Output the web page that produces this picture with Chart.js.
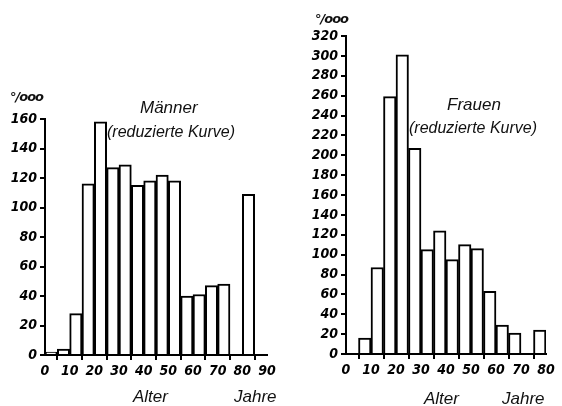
<!DOCTYPE html>
<html>
<head>
<meta charset="utf-8">
<script src="https://cdn.jsdelivr.net/npm/chart.js@4"></script>
<style>
  body { margin: 0; background: #fff; }
  #page { position: relative; width: 562px; height: 406px; overflow: hidden; }
  .box { position: absolute; top: 0; }
  .lbl { position: absolute; font-family: "Liberation Sans", Arial, sans-serif; font-style: italic; color: #111; white-space: nowrap; }
  .unit { font-family: "DejaVu Sans", sans-serif; font-weight: bold; font-size: 13px; letter-spacing: -1px; }
</style>
</head>
<body>
<div id="page">
  <div class="box" style="left:0"><canvas id="men" width="290" height="406"></canvas></div>
  <div class="box" style="left:290px"><canvas id="women" width="272" height="406"></canvas></div>

  <div class="lbl unit" style="left:10px;top:89px">°/ooo</div>
  <div class="lbl" style="left:140px;top:98px;font-size:17px">Männer</div>
  <div class="lbl" style="left:107px;top:123px;font-size:16px">(reduzierte Kurve)</div>
  <div class="lbl" style="left:133px;top:387px;font-size:17px">Alter</div>
  <div class="lbl" style="left:234px;top:387px;font-size:17px">Jahre</div>

  <div class="lbl unit" style="left:315px;top:11px">°/ooo</div>
  <div class="lbl" style="left:447px;top:95px;font-size:17px">Frauen</div>
  <div class="lbl" style="left:409px;top:119px;font-size:16px">(reduzierte Kurve)</div>
  <div class="lbl" style="left:424px;top:389px;font-size:17px">Alter</div>
  <div class="lbl" style="left:502px;top:389px;font-size:17px">Jahre</div>
</div>
<script>
// age groups (start of each 5-year bin)
const menBins = [0, 5, 10, 15, 20, 25, 30, 35, 40, 45, 50, 55, 60, 65, 70, 75, 80, 85];
const menValues = [2, 4, 28, 116, 158, 127, 129, 115, 118, 122, 118, 40, 41, 47, 48, null, 109, null];

const womenBins = [0, 5, 10, 15, 20, 25, 30, 35, 40, 45, 50, 55, 60, 65, 70, 75];
const womenValues = [null, 16, 87, 259, 301, 207, 105, 124, 95, 110, 106, 63, 29, 21, null, 24];

const menAxis = {xMax: 90, yMax: 160};
const womenAxis = {xMax: 80, yMax: 320};

const tickFont = {family: '"DejaVu Sans Condensed", "DejaVu Sans", sans-serif', size: 14, style: 'italic', weight: 'bold'};

function makeChart(id, bins, values, axis, pad, yWidth, xHeight) {
    const pts = bins.map((b, i) => ({x: b + 2.5, y: values[i]}));
    return new Chart(document.getElementById(id), {
        type: 'bar',
        data: {
            datasets: [{
                data: pts,
                backgroundColor: '#fff',
                borderColor: '#000',
                borderWidth: 2,
                borderSkipped: 'bottom',
                barPercentage: 1,
                categoryPercentage: 1
            }]
        },
        options: {
            responsive: false,
            animation: false,
            layout: {padding: pad},
            plugins: {legend: {display: false}, tooltip: {enabled: false}},
            scales: {
                x: {
                    type: 'linear', min: 0, max: axis.xMax, offset: false,
                    ticks: {stepSize: 10, color: '#000', font: tickFont, padding: 3, maxRotation: 0},
                    grid: {drawOnChartArea: false, drawTicks: true, tickLength: 5, color: '#000', lineWidth: 2},
                    border: {color: '#000', width: 2},
                    afterFit: s => { s.height = xHeight; }
                },
                y: {
                    min: 0, max: axis.yMax,
                    ticks: {stepSize: 20, color: '#000', font: tickFont, padding: 3},
                    grid: {drawOnChartArea: false, drawTicks: true, tickLength: 5, color: '#000', lineWidth: 2},
                    border: {color: '#000', width: 2},
                    afterFit: s => { s.width = yWidth; }
                }
            }
        }
    });
}

makeChart('men', menBins, menValues, menAxis, {top: 119, right: 23, left: 0, bottom: 0}, 45, 51);
makeChart('women', womenBins, womenValues, womenAxis, {top: 36, right: 16, left: 0, bottom: 0}, 56, 52);
</script>
</body>
</html>
